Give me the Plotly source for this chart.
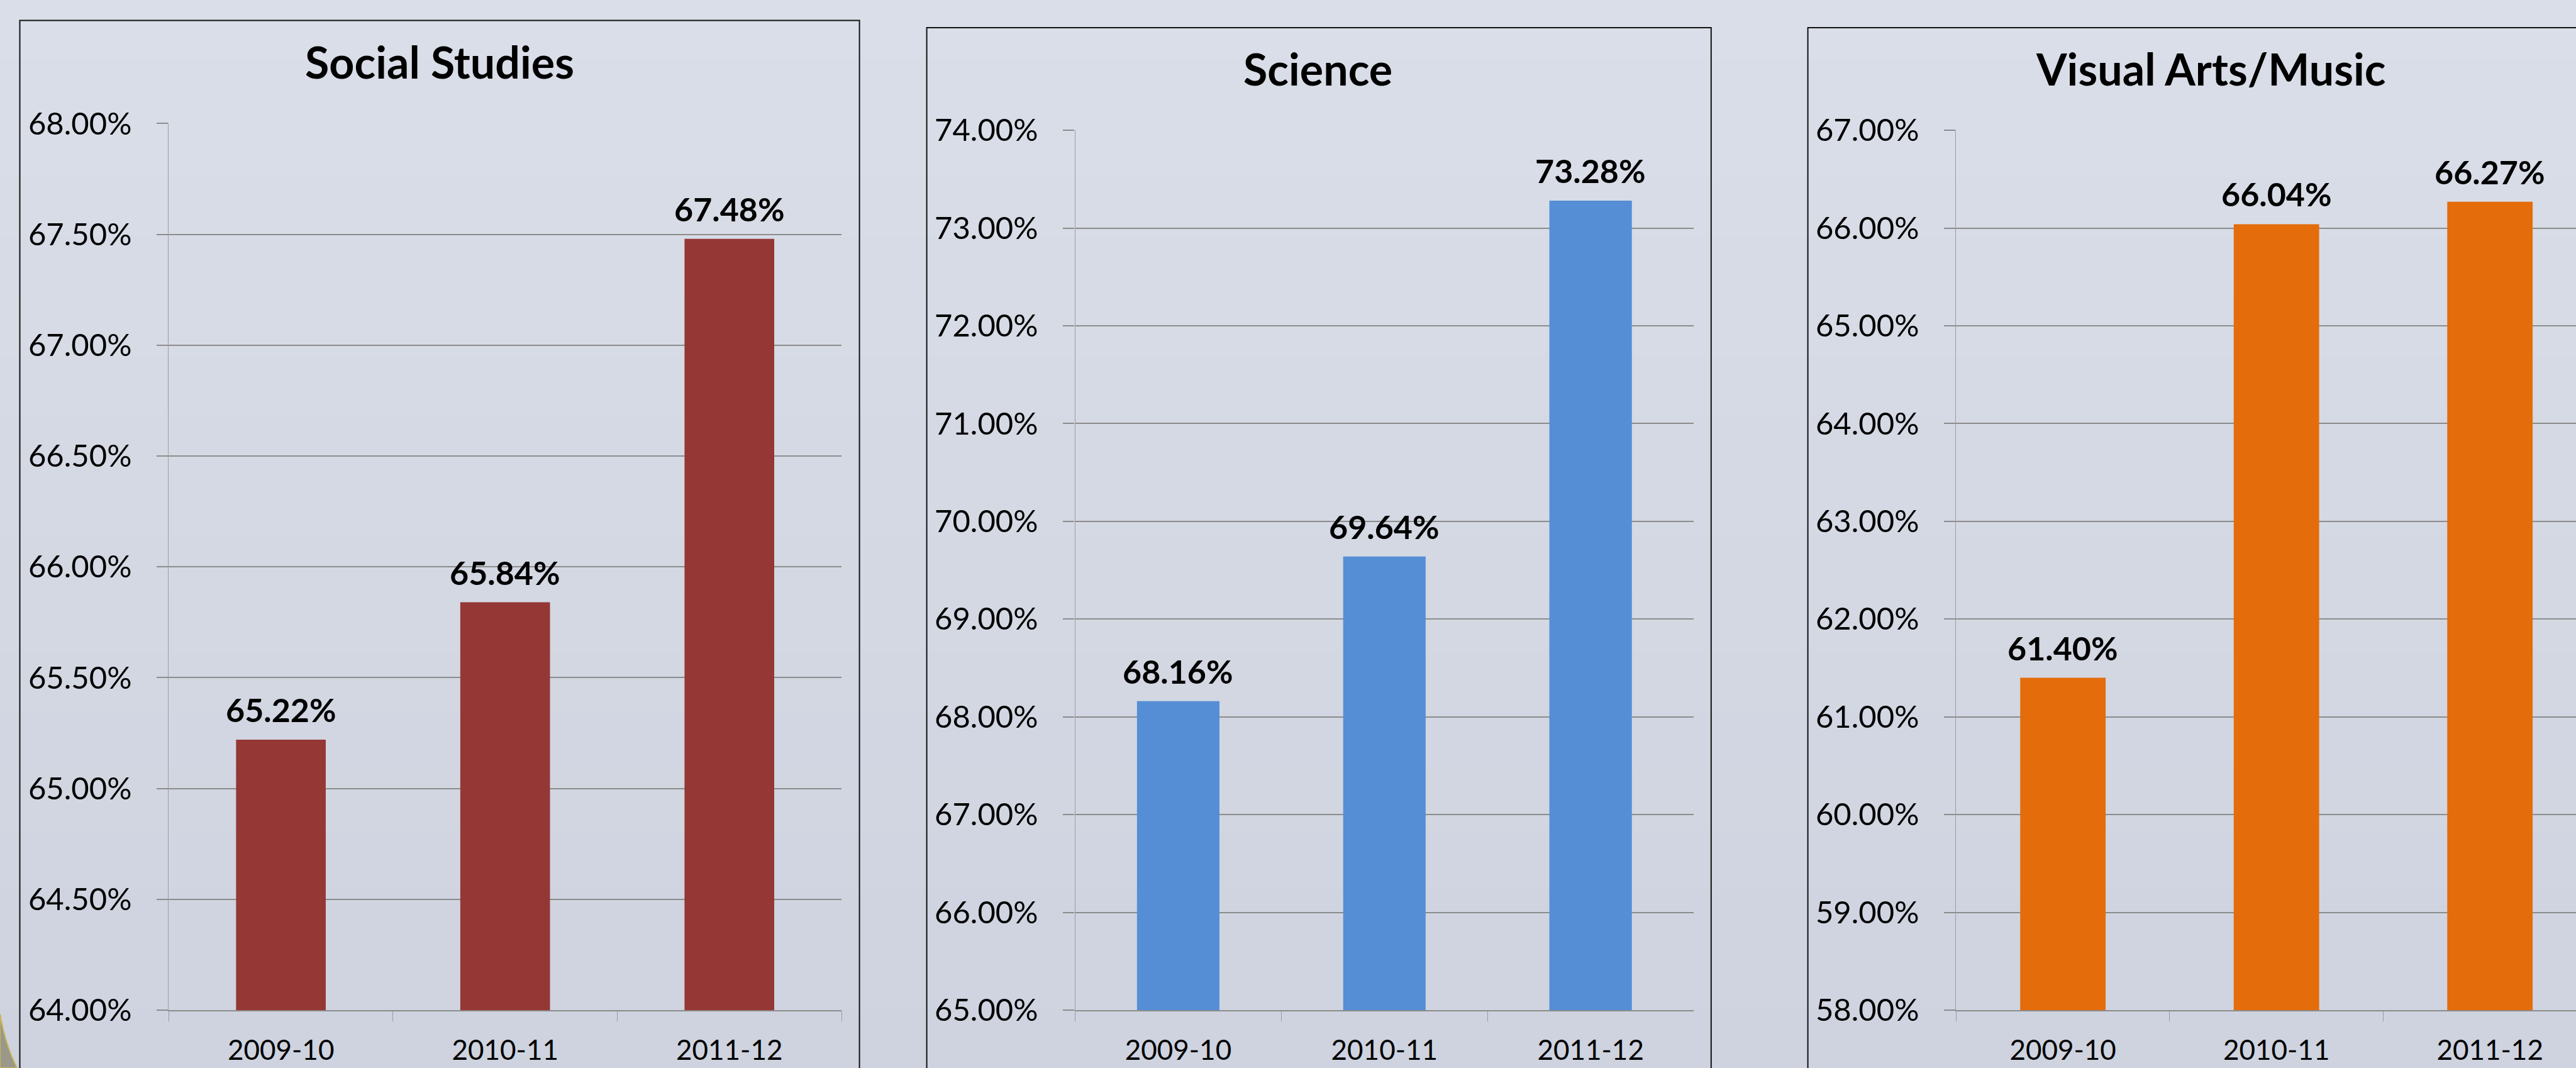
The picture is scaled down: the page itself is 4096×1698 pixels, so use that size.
import plotly.graph_objects as go

W, H = 4096, 1698

years = ["2009-10", "2010-11", "2011-12"]
titles = ["Social Studies", "Science", "Visual Arts/Music"]
social_studies = [65.22, 65.84, 67.48]
science = [68.16, 69.64, 73.28]
visual_arts_music = [61.40, 66.04, 66.27]
series = [social_studies, science, visual_arts_music]
colors = ["#953735", "#558ED5", "#E46C0A"]
y_ranges = [(64.0, 68.0), (65.0, 74.0), (58.0, 67.0)]
y_steps = [0.5, 1.0, 1.0]

# layout (pixel positions in the window)
x_domains_px = [(268.4, 1338.0), (1709.5, 2693.1), (3110.4, 4096.0)]
x_ranges = [(-0.5, 2.5), (-0.5, 2.5), (-0.5, 2.403)]
y_top_px = [196.4, 207.2, 207.2]
y_bot_px = 1606.0
borders_px = [(31.5, 1366.6, 32.5), (1473.6, 2720.8, 43.9), (2874.6, 4300.0, 43.9)]
title_cx_px = [699.0, 2095.3, 3515.0]
title_base_px = [125.8, 136.9, 136.9]

FONT = "Lato"
GRID = "#8c8c8c"

fig = go.Figure()

# background gradient
top_c = (218, 222, 232)
bot_c = (206, 211, 223)
nb = 18
for i in range(nb):
    t = i / (nb - 1)
    c = tuple(round(top_c[k] + (bot_c[k] - top_c[k]) * t) for k in range(3))
    fig.add_shape(type="rect", xref="paper", yref="paper",
                  x0=0, x1=1, y0=1 - (i + 1) / nb - 0.002, y1=1 - i / nb,
                  fillcolor="rgb(%d,%d,%d)" % c, line_width=0, layer="below")

for i in range(3):
    ax = "" if i == 0 else str(i + 1)
    fig.add_trace(go.Bar(
        x=years, y=series[i], marker_color=colors[i], marker_line_width=0,
        width=0.4, xaxis="x" + ax, yaxis="y" + ax, showlegend=False,
        hoverinfo="skip"))
    dom_x = [x_domains_px[i][0] / W, x_domains_px[i][1] / W]
    dom_y = [1 - y_bot_px / H, 1 - y_top_px[i] / H]
    fig.layout["xaxis" + ax] = dict(
        domain=dom_x, anchor="y" + ax, type="category", range=list(x_ranges[i]),
        automargin=False,
        showgrid=False, showline=True, linecolor=GRID, linewidth=2,
        ticks="outside", tickson="boundaries", ticklen=16, tickcolor="#9a9a9a",
        tickwidth=1.3,
        tickfont=dict(family=FONT, size=44, color="black"),
        ticklabelstandoff=24, fixedrange=True)
    fig.layout["yaxis" + ax] = dict(
        domain=dom_y, anchor="x" + ax, range=list(y_ranges[i]), dtick=y_steps[i],
        tick0=y_ranges[i][0], automargin=False,
        showgrid=True, gridcolor=GRID, gridwidth=1.5, zeroline=False,
        showline=True, linecolor="#9c9c9c", linewidth=1.3,
        ticks="outside", ticklen=18, tickcolor=GRID, tickwidth=1.5,
        tickformat=".2f", ticksuffix="%",
        tickfont=dict(family=FONT, size=49, color="black"),
        ticklabelstandoff=30, fixedrange=True)
    # data labels
    for xv, yv in zip(years, series[i]):
        fig.add_annotation(x=xv, y=yv, xref="x" + ax, yref="y" + ax,
                           text="%.2f%%" % yv, showarrow=False, yanchor="bottom",
                           yshift=15,
                           font=dict(family=FONT, size=52, color="black",
                                     weight="bold"))
    # title
    fig.add_annotation(x=title_cx_px[i] / W, y=1 - (title_base_px[i] + 16) / H,
                       xref="paper", yref="paper", text=titles[i],
                       showarrow=False, xanchor="center", yanchor="bottom",
                       font=dict(family=FONT, size=70, color="black",
                                 weight="bold"))
    # panel border
    bx0, bx1, by = borders_px[i]
    fig.add_shape(type="rect", xref="paper", yref="paper",
                  x0=bx0 / W, x1=bx1 / W, y0=-0.1, y1=1 - by / H,
                  line=dict(color="#111111", width=2), fillcolor="rgba(0,0,0,0)",
                  layer="above")

# decorative corner curve (bottom-left)
fig.add_shape(type="path", xref="paper", yref="paper",
              path="M 0,%f Q %f,%f %f,0 L 0,0 Z" % (
                  1 - 1612 / H, 8 / W, 1 - 1660 / H, 27 / W),
              fillcolor="#9a988a", line=dict(color="#c9b652", width=2),
              layer="above")

fig.update_layout(
    width=W, height=H, margin=dict(l=0, r=0, t=0, b=0, autoexpand=False),
    paper_bgcolor="rgb(214,218,229)", plot_bgcolor="rgba(0,0,0,0)",
    bargap=0.6, font=dict(family=FONT))

fig.write_html(
    "out.html", config={"displayModeBar": False},
    post_script="document.body.style.margin='0';"
                "document.body.style.overflow='hidden';"
                "document.body.style.background='rgb(214,218,229)';")
